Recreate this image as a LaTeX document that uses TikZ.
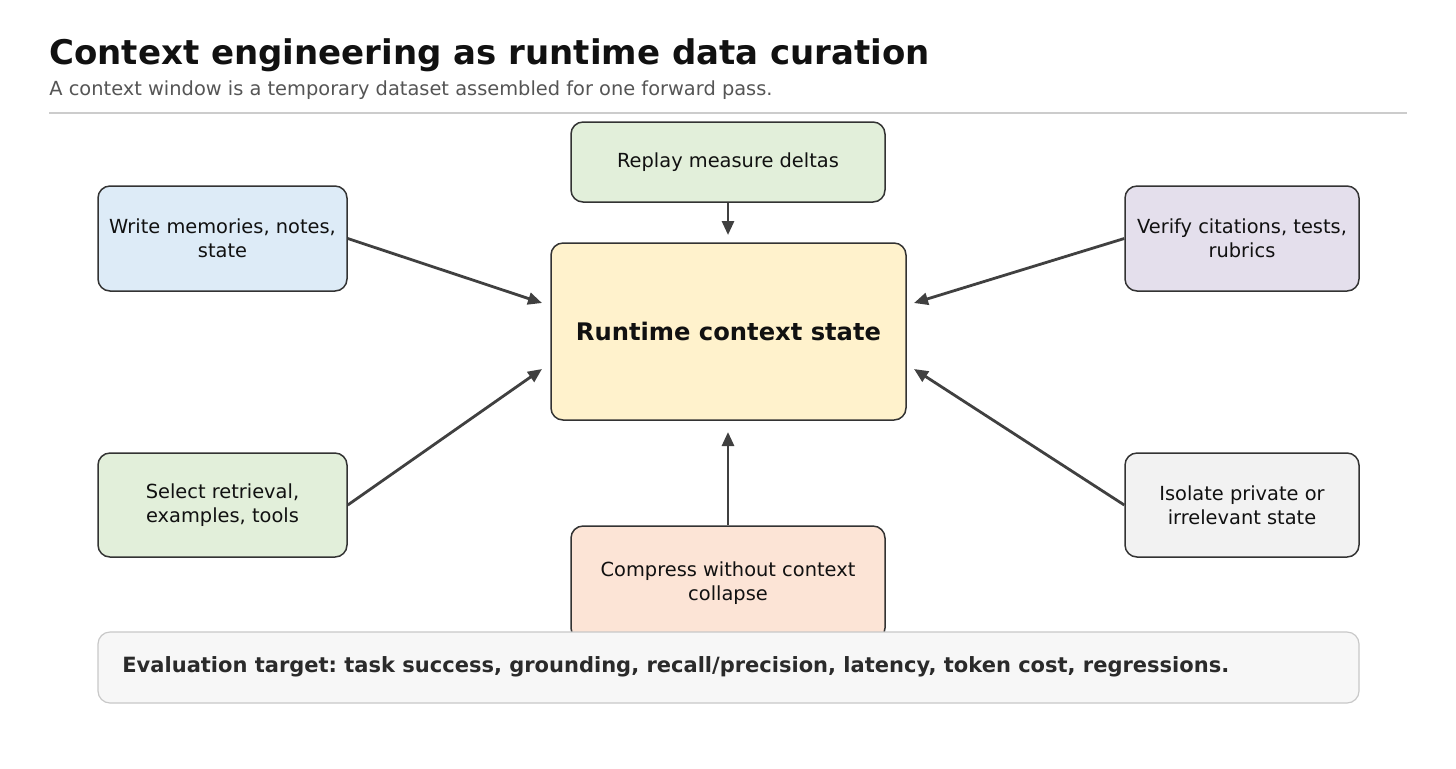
\documentclass[tikz,border=0pt]{standalone}
\usepackage{fontspec}
\setmainfont{DejaVu Sans}
\usetikzlibrary{arrows.meta}
\definecolor{boxline}{HTML}{333333}
\definecolor{arrc}{HTML}{404040}
\definecolor{textc}{HTML}{111111}
\definecolor{subc}{HTML}{555555}
\definecolor{rulec}{HTML}{CCCCCC}
\definecolor{fgreen}{HTML}{E2EFDA}
\definecolor{fblue}{HTML}{DDEBF7}
\definecolor{fviolet}{HTML}{E4DFEC}
\definecolor{fgray}{HTML}{F2F2F2}
\definecolor{fpeach}{HTML}{FCE4D6}
\definecolor{fyellow}{HTML}{FFF2CC}
\definecolor{fevalbg}{HTML}{F7F7F7}
\definecolor{evalline}{HTML}{C8C8C8}
\definecolor{evaltext}{HTML}{2A2A2A}
\frenchspacing
\begin{document}
\begin{tikzpicture}[x=0.5pt,y=-0.5pt,
  box/.style={draw=boxline, line width=0.75pt, rounded corners=6pt, align=center,
    font=\fontsize{9.7}{12}\selectfont, text=textc, inner sep=0pt},
  arr/.style={draw=arrc, line width=1.4pt, -{Triangle[length=7pt,width=6pt]}}]
\useasboundingbox (0,0) rectangle (1456,768);
% title
\node[anchor=base west, inner sep=0pt, text=textc, font=\fontsize{17}{20}\selectfont\bfseries] (title) at (49,64) {Context engineering as runtime data curation};
\node[anchor=base west, inner sep=0pt, text=subc, font=\fontsize{9.7}{12}\selectfont] (sub) at (49,95) {A context window is a temporary dataset assembled for one forward pass.};
\coordinate (r1) at (49,113);
\coordinate (r2) at (1407,113);
\draw[rulec, line width=1pt] (r1) -- (r2);
% nodes
\node[box, fill=fgreen, minimum width=157pt, minimum height=40pt] (replay) at (728,162) {Replay measure deltas};
\node[box, fill=fyellow, minimum width=177.5pt, minimum height=88.5pt, font=\fontsize{12.1}{15}\selectfont\bfseries] (run) at (728.5,331.5) {Runtime context state};
\node[box, fill=fblue, minimum width=124.5pt, minimum height=52.5pt] (write) at (222.5,238.5) {Write memories, notes,\\state};
\node[box, fill=fviolet, minimum width=117pt, minimum height=52.5pt] (verify) at (1242,238.5) {Verify citations, tests,\\rubrics};
\node[box, fill=fgreen, minimum width=124.5pt, minimum height=52pt] (select) at (222.5,505) {Select retrieval,\\examples, tools};
\node[box, fill=fgray, minimum width=117pt, minimum height=52pt] (isolate) at (1242,505) {Isolate private or\\irrelevant state};
\node[box, fill=fpeach, minimum width=157pt, minimum height=57pt] (compress) at (728,583) {Compress without context\\collapse};
% evaluation box
\node[draw=evalline, fill=fevalbg, line width=0.6pt, rounded corners=6pt, minimum width=630.5pt, minimum height=35.5pt, inner sep=0pt] (eval) at (728.5,667.5) {};
\node[anchor=west, inner sep=0pt, text=evaltext, font=\fontsize{10.5}{12}\selectfont\bfseries] (evaltxt) at (122,666.5) {Evaluation target: task success, grounding, recall/precision, latency, token cost, regressions.};
% arrow targets
\coordinate (tTop) at (728,235);
\coordinate (tBot) at (728,432);
\coordinate (tLU) at (542,303);
\coordinate (tLD) at (542,369);
\coordinate (tRU) at (914,303);
\coordinate (tRD) at (914,369);
% arrows
\draw[arr] (replay.south) -- (tTop);
\draw[arr] (compress.north) -- (tBot);
\draw[arr] (write.east) -- (tLU);
\draw[arr] (select.east) -- (tLD);
\draw[arr] (verify.west) -- (tRU);
\draw[arr] (isolate.west) -- (tRD);
\end{tikzpicture}
\end{document}
